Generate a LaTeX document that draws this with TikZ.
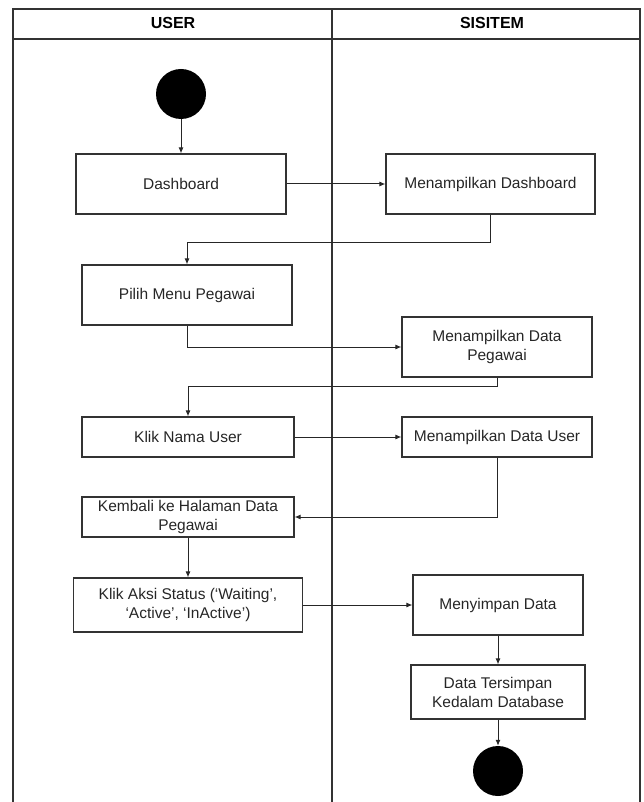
\documentclass[tikz,border=0pt]{standalone}
\usepackage{fontspec}
\setmainfont{Liberation Sans}
\usetikzlibrary{shapes,positioning,arrows.meta}

\tikzset{
    act/.style={draw=black!80, line width=1.1pt, align=center, inner sep=1pt,
        font=\fontsize{15.5}{19}\selectfont, text=black!85},
    dot/.style={circle, fill=black, minimum size=50pt, inner sep=0pt},
    flow/.style={-{Latex[length=6pt,width=5pt]}, line width=1pt, draw=black!85},
    lane/.style={line width=1.2pt, draw=black!80}
}

\begin{document}
\begin{tikzpicture}[x=1pt,y=-1pt]
        \useasboundingbox (0,0) rectangle (644,802);

        % swimlanes
        \draw[lane] (13,802) -- (13,9) -- (640,9) -- (640,802);
        \draw[lane] (13,39) -- (640,39);
        \draw[lane] (332,9) -- (332,802);
        \node[font=\fontsize{16}{19}\selectfont\bfseries] (user) at (173,23) {USER};
        \node[font=\fontsize{16}{19}\selectfont\bfseries] (sistem) at (492,23) {SISITEM};

        % user lane
        \node[dot] (start) at (181,94) {};
        \node[act, minimum width=210pt, minimum height=60pt] (dash) at (181,184) {Dashboard};
        \node[act, minimum width=210pt, minimum height=60pt] (pilih) at (187,295) {Pilih Menu Pegawai};
        \node[act, minimum width=212pt, minimum height=40pt] (klik) at (188,437) {Klik Nama User};
        \node[act, minimum width=212pt, minimum height=40pt] (kembali) at (188,517) {Kembali ke Halaman Data\\Pegawai};
        \node[act, minimum width=229pt, minimum height=54pt] (aksi) at (188,605) {Klik Aksi Status (‘Waiting’,\\‘Active’, ‘InActive’)};

        % sistem lane
        \node[act, minimum width=209pt, minimum height=60pt] (mdash) at (490.5,184) {Menampilkan Dashboard};
        \node[act, minimum width=190pt, minimum height=60pt] (mdp) at (497,347) {Menampilkan Data\\Pegawai};
        \node[act, minimum width=190pt, minimum height=40pt] (mdu) at (497,437) {Menampilkan Data User};
        \node[act, minimum width=170pt, minimum height=60pt] (simpan) at (498,605) {Menyimpan Data};
        \node[act, minimum width=174pt, minimum height=54pt] (dt) at (498,692) {Data Tersimpan\\Kedalam Database};
        \node[dot] (end) at (498,771) {};

        % alur
        \draw[flow] (start) -- (dash);
        \draw[flow] (dash) -- (mdash);
        \draw[flow] (mdash.south) -- ++(0,28) -| (pilih.north);
        \draw[flow] (pilih.south) |- (mdp.west);
        \draw[flow] (mdp.south) -- ++(0,9) -| (klik.north);
        \draw[flow] (klik) -- (mdu);
        \draw[flow] (mdu.south) |- (kembali.east);
        \draw[flow] (kembali) -- (aksi);
        \draw[flow] (aksi) -- (simpan);
        \draw[flow] (simpan) -- (dt);
        \draw[flow] (dt) -- (end);
    \end{tikzpicture}
\end{document}
